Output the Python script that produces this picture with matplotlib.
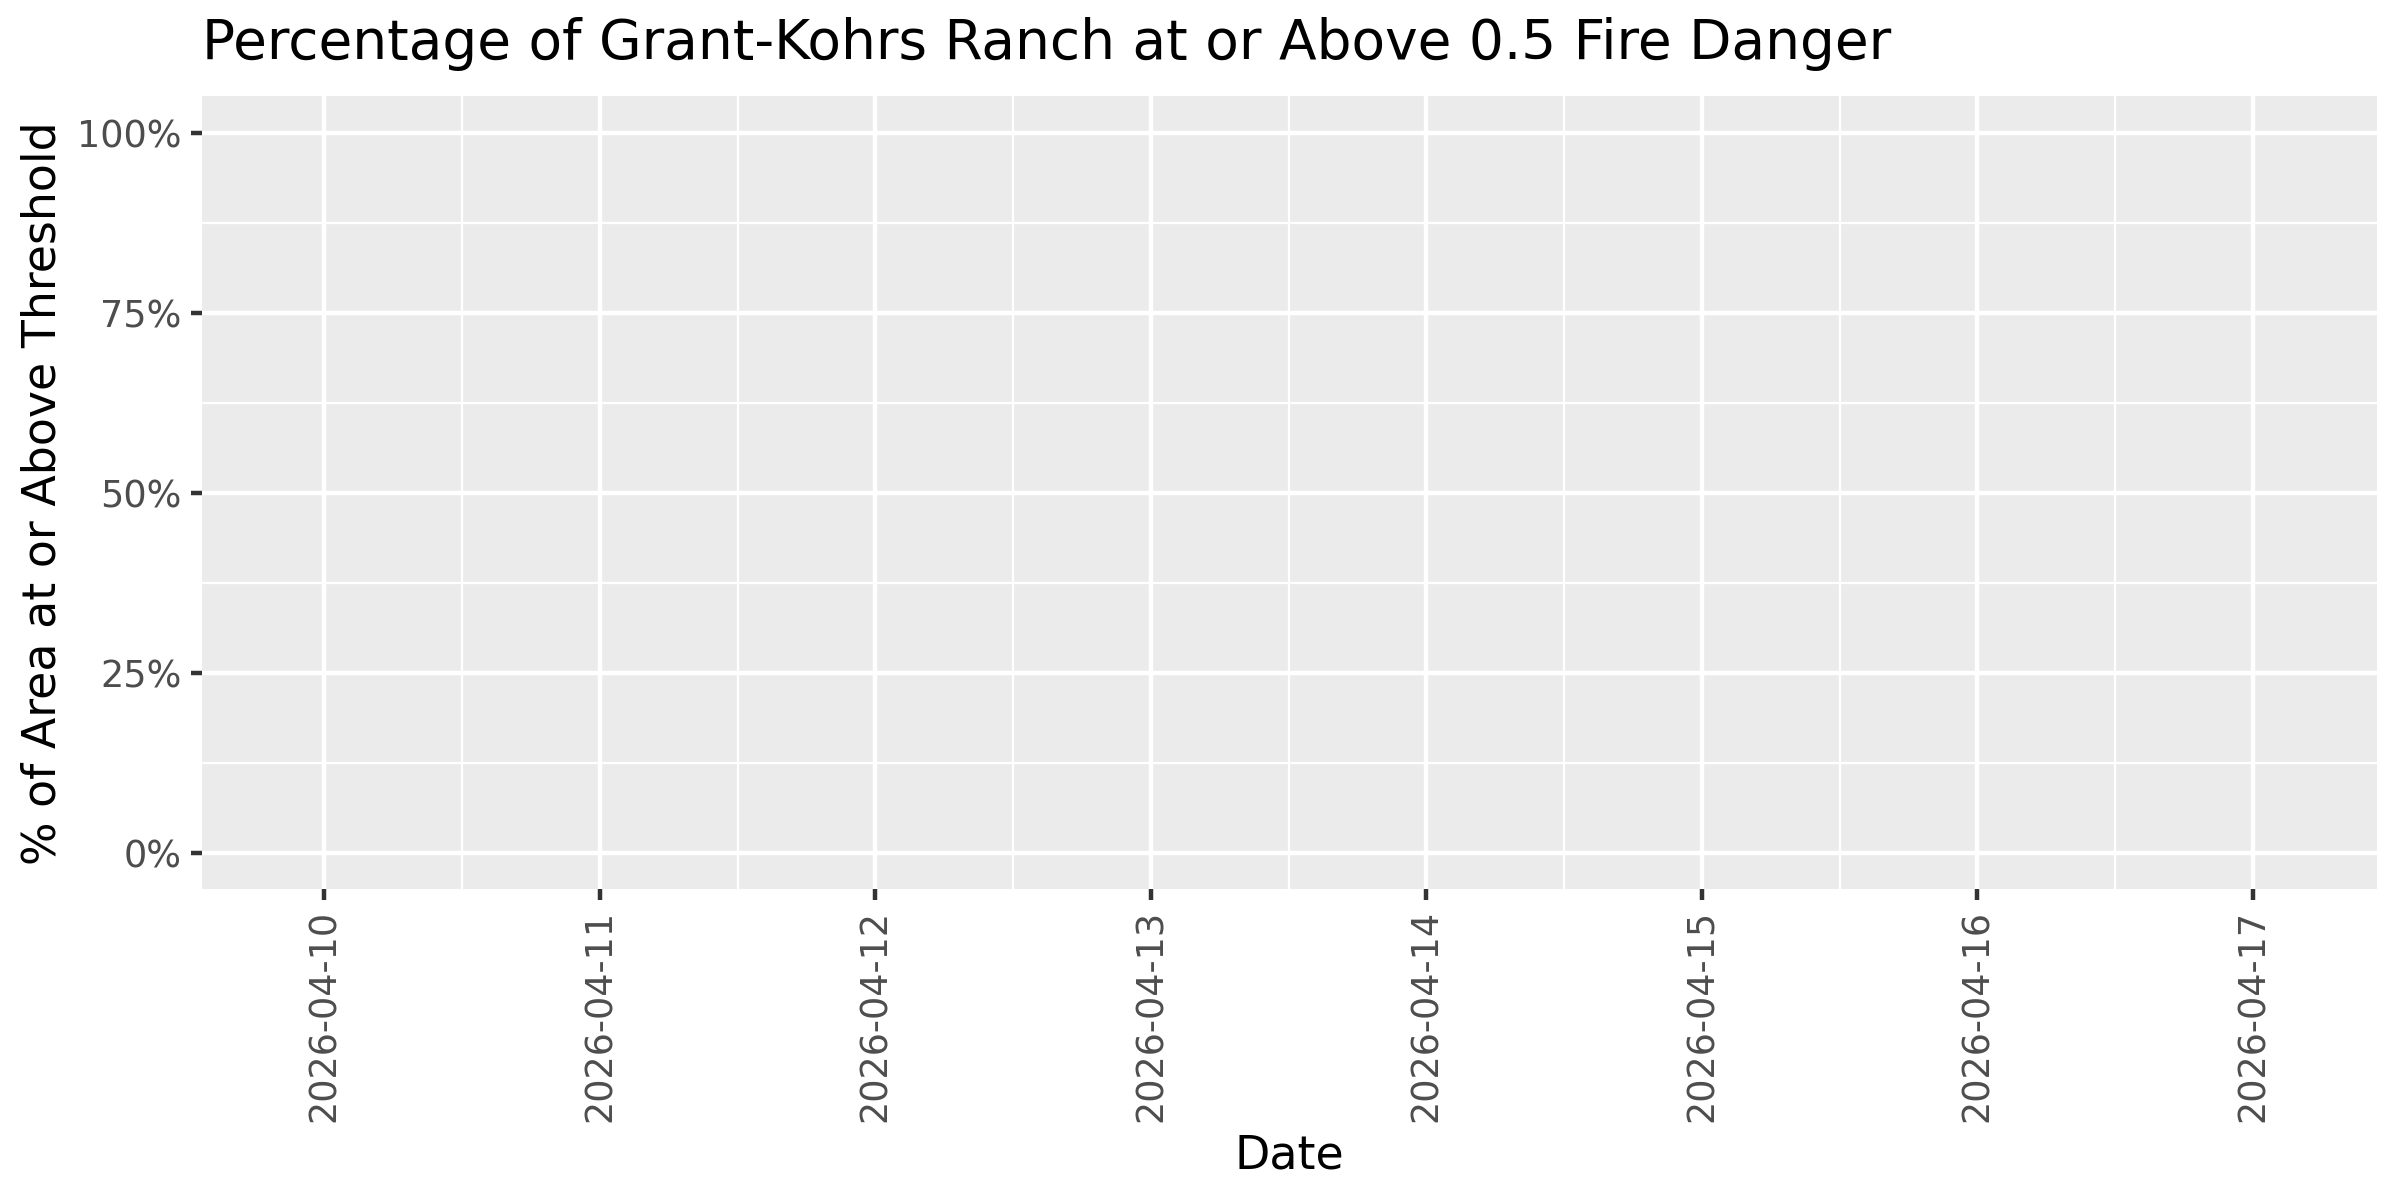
import matplotlib
matplotlib.use("Agg")
import matplotlib.pyplot as plt
import matplotlib.dates as mdates
import matplotlib.ticker as mticker
import numpy as np
import pandas as pd

# Data: daily dates, no valid values were available (nothing drawn in the panel)
dates = pd.to_datetime(["2026-04-10", "2026-04-11", "2026-04-12", "2026-04-13",
                        "2026-04-14", "2026-04-15", "2026-04-16", "2026-04-17"])
pct_above = [np.nan, np.nan, np.nan, np.nan, np.nan, np.nan, np.nan, np.nan]
y_ticks = [0, 0.25, 0.5, 0.75, 1.0]

title = "Percentage of Grant-Kohrs Ranch at or Above 0.5 Fire Danger"
x_title = "Date"
y_title = "% of Area at or Above Threshold"

plt.rcParams["font.family"] = ["DejaVu Sans"]

fig = plt.figure(figsize=(8, 4), dpi=300)
ax = fig.add_axes([0.0842, 0.259, 0.9062, 0.6606])

# ggplot-like grey panel
ax.set_facecolor("#EBEBEB")
for s in ax.spines.values():
    s.set_visible(False)

ax.plot(dates, pct_above, color="black", linewidth=1)

# Axis limits (ggplot expansion)
x0 = mdates.date2num(dates[0]) - 0.444
x1 = mdates.date2num(dates[-1]) + 0.45
ax.set_xlim(x0, x1)
ax.set_ylim(-0.051, 1.051)

ax.set_xticks(mdates.date2num(dates))
ax.xaxis.set_major_formatter(mdates.DateFormatter("%Y-%m-%d"))
ax.set_xticks(mdates.date2num(dates[:-1]) + 0.5, minor=True)
ax.set_yticks(y_ticks)
ax.yaxis.set_major_formatter(mticker.PercentFormatter(1.0, decimals=0))
ax.set_yticks([0.125, 0.375, 0.625, 0.875], minor=True)

ax.grid(which="major", color="white", linewidth=1.07)
ax.grid(which="minor", color="white", linewidth=0.53)
ax.set_axisbelow(True)

ax.tick_params(axis="both", which="major", colors="#333333", length=2.75,
               width=1.07, labelcolor="#4D4D4D", labelsize=8.8, pad=2.2)
ax.tick_params(axis="both", which="minor", length=0)
for lab in ax.get_xticklabels():
    lab.set_rotation(90)

ax.set_xlabel(x_title, fontsize=11, color="black", labelpad=2.75)
ax.set_ylabel(y_title, fontsize=11, color="black", labelpad=2.75)
ax.set_title(title, fontsize=13.2, color="black", loc="left", pad=9)

fig.savefig("out.png", dpi=300, facecolor="white")
